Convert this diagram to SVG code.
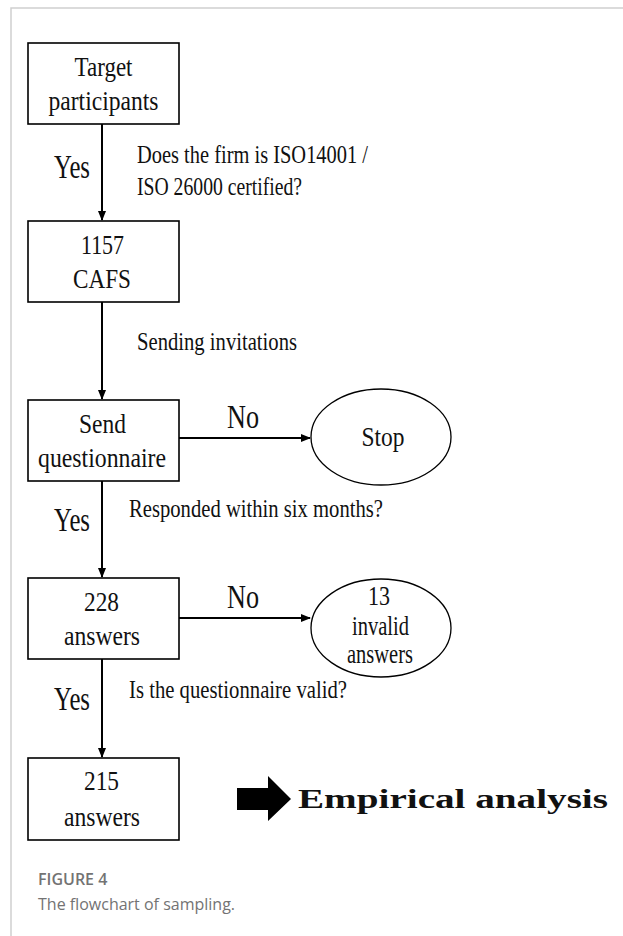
<svg xmlns="http://www.w3.org/2000/svg" width="623" height="936" viewBox="0 0 623 936">
<defs>
<marker id="ah" markerWidth="10" markerHeight="10" refX="9" refY="5" orient="auto" markerUnits="userSpaceOnUse">
<path d="M0,1 L10,5 L0,9 Z" fill="#000"/>
</marker>
</defs>
<style>
.box{fill:#fff;stroke:#000;stroke-width:1.6}
.ell{fill:#fff;stroke:#000;stroke-width:1.3}
.t{font-family:"Liberation Serif","Times New Roman",serif;fill:#111;font-size:27px}
.c{text-anchor:middle}
.yn{font-size:33px}
.lbl{font-size:26px}
.con{stroke:#000;stroke-width:2;fill:none;marker-end:url(#ah)}
.cap{font-family:"Open Sans","Liberation Sans",sans-serif;fill:#737373}
</style>
<rect width="623" height="936" fill="#fff"/>
<path d="M11,936 V8 H623" fill="none" stroke="#cfcfcf" stroke-width="1.5"/>

<g id="connectors">
<line class="con" x1="102" y1="124" x2="102" y2="220"/>
<line class="con" x1="102" y1="302" x2="102" y2="399"/>
<line class="con" x1="179" y1="438" x2="310" y2="438"/>
<line class="con" x1="102" y1="481" x2="102" y2="577"/>
<line class="con" x1="179" y1="618" x2="310" y2="618"/>
<line class="con" x1="102" y1="659" x2="102" y2="757"/>
<path d="M237,788 H268 V776 L291,799 L268,821 V810 H237 Z" fill="#000"/>
<text class="t yn" x="54" y="178" textLength="36" lengthAdjust="spacingAndGlyphs">Yes</text>
<text class="t lbl" x="137" y="163" textLength="231" lengthAdjust="spacingAndGlyphs">Does the firm is ISO14001 /</text>
<text class="t lbl" x="137" y="195" textLength="165" lengthAdjust="spacingAndGlyphs">ISO 26000 certified?</text>
<text class="t lbl" x="137" y="350" textLength="160" lengthAdjust="spacingAndGlyphs">Sending invitations</text>
<text class="t yn" x="227" y="428" textLength="32" lengthAdjust="spacingAndGlyphs">No</text>
<text class="t yn" x="54" y="531" textLength="36" lengthAdjust="spacingAndGlyphs">Yes</text>
<text class="t lbl" x="129" y="517" textLength="254" lengthAdjust="spacingAndGlyphs">Responded within six months?</text>
<text class="t yn" x="227" y="608" textLength="32" lengthAdjust="spacingAndGlyphs">No</text>
<text class="t yn" x="54" y="710" textLength="36" lengthAdjust="spacingAndGlyphs">Yes</text>
<text class="t lbl" x="129" y="698" textLength="218" lengthAdjust="spacingAndGlyphs">Is the questionnaire valid?</text>
</g>

<g id="target">
<rect class="box" x="28" y="43" width="151" height="81"/>
<text class="t c" x="103.5" y="76" textLength="58" lengthAdjust="spacingAndGlyphs">Target</text>
<text class="t c" x="103.5" y="110" textLength="110" lengthAdjust="spacingAndGlyphs">participants</text>
</g>

<g id="cafs">
<rect class="box" x="28" y="221" width="151" height="81"/>
<text class="t c" x="102.5" y="254" textLength="43" lengthAdjust="spacingAndGlyphs">1157</text>
<text class="t c" x="102" y="288" textLength="58" lengthAdjust="spacingAndGlyphs">CAFS</text>
</g>

<g id="send">
<rect class="box" x="28" y="400" width="151" height="81"/>
<text class="t c" x="102.5" y="433" textLength="47" lengthAdjust="spacingAndGlyphs">Send</text>
<text class="t c" x="102" y="467" textLength="128" lengthAdjust="spacingAndGlyphs">questionnaire</text>
</g>

<g id="stop">
<ellipse class="ell" cx="381" cy="437" rx="70" ry="48"/>
<text class="t c" x="383" y="446" font-size="24" textLength="43" lengthAdjust="spacingAndGlyphs">Stop</text>
</g>

<g id="answers228">
<rect class="box" x="28" y="578" width="151" height="81"/>
<text class="t c" x="101.5" y="611" textLength="35" lengthAdjust="spacingAndGlyphs">228</text>
<text class="t c" x="102" y="645" textLength="76" lengthAdjust="spacingAndGlyphs">answers</text>
</g>

<g id="invalid">
<ellipse class="ell" cx="381" cy="628" rx="70" ry="49"/>
<text class="t c" x="379" y="605" textLength="22" lengthAdjust="spacingAndGlyphs">13</text>
<text class="t c" x="380.5" y="635" textLength="57" lengthAdjust="spacingAndGlyphs">invalid</text>
<text class="t c" x="380" y="663" textLength="66" lengthAdjust="spacingAndGlyphs">answers</text>
</g>

<g id="answers215">
<rect class="box" x="28" y="758" width="151" height="82"/>
<text class="t c" x="101.5" y="790" textLength="35" lengthAdjust="spacingAndGlyphs">215</text>
<text class="t c" x="102" y="826" textLength="76" lengthAdjust="spacingAndGlyphs">answers</text>
</g>

<g id="empirical">
<text class="t" x="298" y="808" font-size="33" font-weight="bold" textLength="310" lengthAdjust="spacingAndGlyphs">Empirical analysis</text>
</g>

<g id="caption">
<text class="cap" x="38" y="885" font-size="16" font-weight="600">FIGURE 4</text>
<text class="cap" x="38" y="910" font-size="16">The flowchart of sampling.</text>
</g>
</svg>
